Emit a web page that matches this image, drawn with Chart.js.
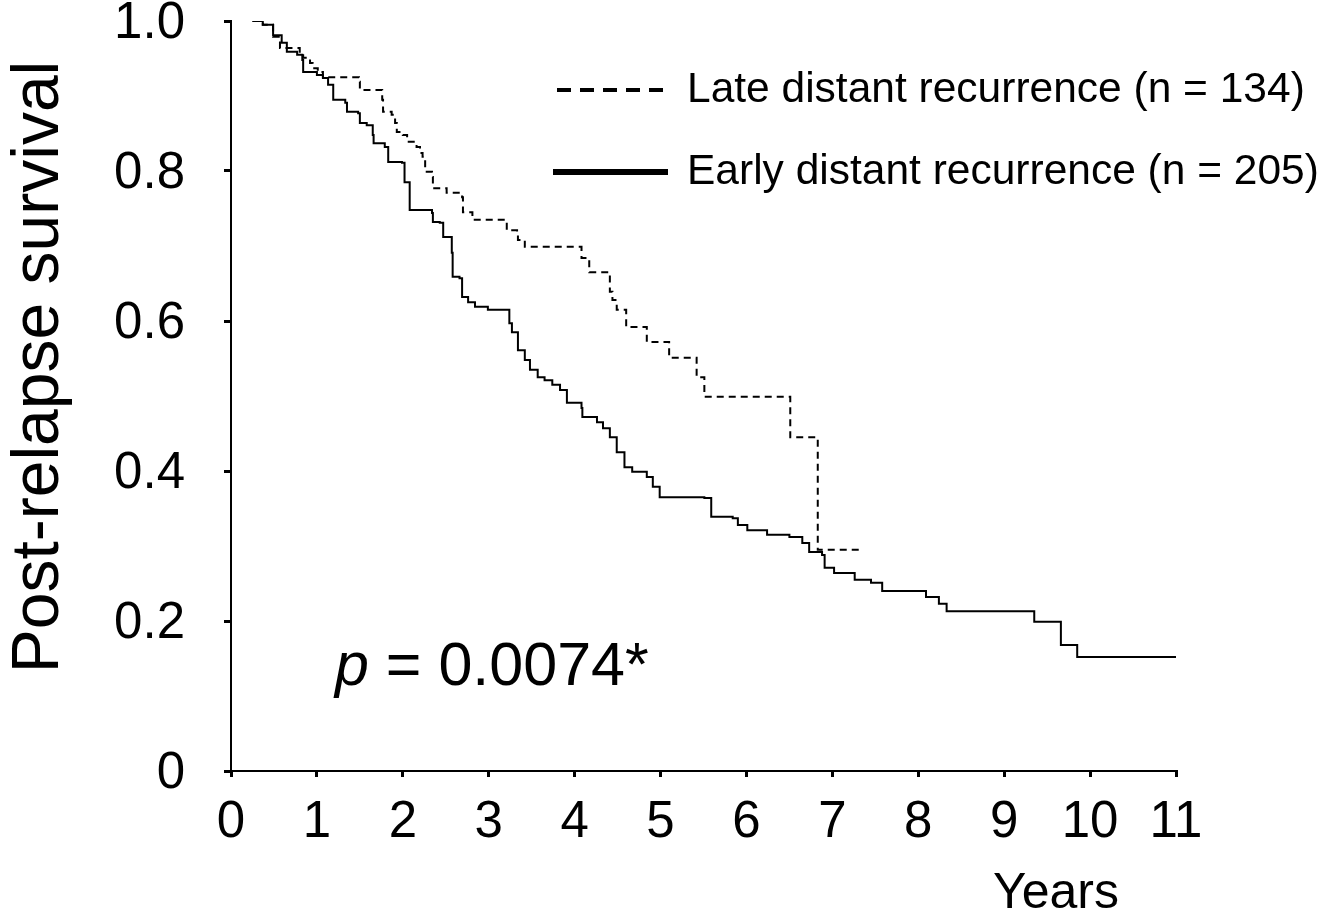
<!DOCTYPE html>
<html lang="en">
<head>
    <meta charset="UTF-8">
    <title>Post-relapse survival</title>
    <script src="https://cdn.jsdelivr.net/npm/chart.js"></script>
    <style>
        * { margin: 0; padding: 0; box-sizing: border-box; }
        body { background: #fff; }
        .chart-box { width: 1321px; height: 916px; position: relative; }
    </style>
</head>
<body>
    <div class="chart-box">
        <canvas id="kmCanvas"></canvas>
    </div>

    <script>
        // Kaplan-Meier steps (time in years, survival after the drop)
        const earlyTimes = [0.25, 0.37, 0.49, 0.59, 0.65, 0.77, 0.83, 0.84, 1.00, 1.07, 1.13, 1.19, 1.33, 1.35, 1.48, 1.50, 1.58, 1.65, 1.66, 1.79,
            1.83, 1.99, 2.02, 2.08, 2.34, 2.35, 2.43, 2.47, 2.57, 2.58, 2.66, 2.69, 2.76, 2.84, 2.99, 3.24, 3.27, 3.34, 3.42, 3.48,
            3.57, 3.65, 3.74, 3.83, 3.91, 4.08, 4.09, 4.26, 4.33, 4.41, 4.49, 4.58, 4.67, 4.84, 4.91, 4.99, 5.51, 5.59, 5.84, 5.90,
            6.01, 6.24, 6.50, 6.65, 6.73, 6.88, 6.91, 7.02, 7.26, 7.45, 7.58, 8.09, 8.24, 8.33, 9.35, 9.66, 9.85, 11.0];
        const earlySurv = [1.0, 0.995, 0.981, 0.971, 0.959, 0.955, 0.948, 0.932, 0.928, 0.924, 0.915, 0.895, 0.891, 0.879, 0.877, 0.864, 0.861, 0.848, 0.837, 0.832,
            0.812, 0.811, 0.785, 0.748, 0.744, 0.732, 0.731, 0.712, 0.691, 0.659, 0.657, 0.632, 0.625, 0.619, 0.615, 0.597, 0.585, 0.561, 0.548, 0.535,
            0.525, 0.521, 0.515, 0.508, 0.491, 0.484, 0.472, 0.465, 0.457, 0.445, 0.425, 0.405, 0.399, 0.392, 0.379, 0.365, 0.364, 0.339, 0.337, 0.328,
            0.321, 0.315, 0.312, 0.304, 0.292, 0.288, 0.271, 0.264, 0.255, 0.251, 0.240, 0.232, 0.223, 0.213, 0.199, 0.168, 0.152, 0.152];

        const lateTimes = [0.25, 0.37, 0.49, 0.57, 0.80, 0.84, 0.92, 0.95, 1.01, 1.07, 1.49, 1.50, 1.76, 1.77, 1.87, 1.91, 1.93, 2.00, 2.05, 2.16,
            2.20, 2.23, 2.26, 2.34, 2.35, 2.51, 2.69, 2.70, 2.81, 3.21, 3.33, 3.34, 3.42, 4.08, 4.17, 4.41, 4.44, 4.49, 4.60, 4.84,
            5.10, 5.42, 5.51, 6.51, 6.83, 7.34];
        const lateSurv = [1.0, 0.995, 0.979, 0.964, 0.957, 0.951, 0.944, 0.937, 0.932, 0.925, 0.919, 0.908, 0.895, 0.879, 0.875, 0.864, 0.852, 0.848, 0.839, 0.832,
            0.824, 0.819, 0.799, 0.792, 0.777, 0.771, 0.765, 0.745, 0.735, 0.721, 0.719, 0.708, 0.699, 0.684, 0.665, 0.639, 0.628, 0.615, 0.592, 0.572,
            0.551, 0.525, 0.499, 0.445, 0.295, 0.295];

        const seriesLabels = ['Late distant recurrence (n = 134)', 'Early distant recurrence (n = 205)'];
        const xTicks = [0, 1, 2, 3, 4, 5, 6, 7, 8, 9, 10, 11];
        const yTicks = [0, 0.2, 0.4, 0.6, 0.8, 1.0];
        const pText = '0.0074*';

        const FONT = "Arial, 'Liberation Sans', sans-serif";

        function toPoints(times, surv) {
            return times.map((t, i) => ({ x: t, y: surv[i] }));
        }

        // titles, legend and p value
        const annotations = {
            id: 'annotations',
            afterDraw(chart) {
                const ctx = chart.ctx;
                ctx.save();
                ctx.fillStyle = '#000';

                // y title
                ctx.save();
                ctx.translate(40, 367);
                ctx.rotate(-Math.PI / 2);
                ctx.font = '66px ' + FONT;
                ctx.textAlign = 'center';
                ctx.textBaseline = 'middle';
                ctx.fillText('Post-relapse survival', 0, 0);
                ctx.restore();

                // x title
                ctx.font = '50px ' + FONT;
                ctx.textAlign = 'center';
                ctx.textBaseline = 'alphabetic';
                ctx.fillText('Years', 1056, 908);

                // legend
                ctx.strokeStyle = '#000';
                ctx.lineWidth = 4;
                ctx.setLineDash([14, 9]);
                ctx.beginPath();
                ctx.moveTo(557, 90);
                ctx.lineTo(667, 90);
                ctx.stroke();
                ctx.setLineDash([]);
                ctx.lineWidth = 6;
                ctx.beginPath();
                ctx.moveTo(553, 172);
                ctx.lineTo(668, 172);
                ctx.stroke();

                ctx.font = '42.5px ' + FONT;
                ctx.textAlign = 'left';
                ctx.textBaseline = 'middle';
                ctx.fillText(seriesLabels[0], 687, 90);
                ctx.fillText(seriesLabels[1], 687, 172);

                // p value
                ctx.textBaseline = 'alphabetic';
                ctx.font = 'italic 61px ' + FONT;
                ctx.fillText('p', 335, 685);
                const pw = ctx.measureText('p').width;
                ctx.font = '61px ' + FONT;
                ctx.fillText(' = ' + pText, 335 + pw, 685);

                ctx.restore();
            }
        };

        const ctx = document.getElementById('kmCanvas').getContext('2d');
        const kmChart = new Chart(ctx, {
            type: 'line',
            data: {
                datasets: [{
                    label: seriesLabels[0],
                    data: toPoints(lateTimes, lateSurv),
                    borderColor: '#000',
                    borderWidth: 2,
                    borderDash: [7, 5],
                    stepped: 'before',
                    pointRadius: 0,
                    fill: false
                }, {
                    label: seriesLabels[1],
                    data: toPoints(earlyTimes, earlySurv),
                    borderColor: '#000',
                    borderWidth: 2,
                    stepped: 'before',
                    pointRadius: 0,
                    fill: false
                }]
            },
            options: {
                responsive: true,
                maintainAspectRatio: false,
                animation: false,
                layout: { padding: { top: 21, right: 145, left: 0, bottom: 0 } },
                plugins: {
                    legend: { display: false },
                    tooltip: { enabled: false }
                },
                scales: {
                    x: {
                        type: 'linear',
                        min: 0,
                        max: 11,
                        afterFit: (scale) => {
                            scale.height = 145;
                            scale.paddingLeft = 0;
                            scale.paddingRight = 0;
                        },
                        afterBuildTicks: (scale) => { scale.ticks = xTicks.map(v => ({ value: v })); },
                        ticks: {
                            color: '#000',
                            font: { family: FONT, size: 51 },
                            padding: 15,
                            maxRotation: 0,
                            autoSkip: false
                        },
                        grid: { drawOnChartArea: false, color: '#000', lineWidth: 3, tickLength: 6 },
                        border: { color: '#000', width: 2 }
                    },
                    y: {
                        min: 0,
                        max: 1,
                        afterFit: (scale) => {
                            scale.width = 231;
                            scale.paddingTop = 0;
                            scale.paddingBottom = 0;
                        },
                        afterBuildTicks: (scale) => { scale.ticks = yTicks.map(v => ({ value: v })); },
                        ticks: {
                            color: '#000',
                            font: { family: FONT, size: 51 },
                            padding: 39,
                            labelOffset: 3,
                            callback: (v) => v === 0 ? '0' : v.toFixed(1)
                        },
                        grid: { drawOnChartArea: false, color: '#000', lineWidth: 3, tickLength: 7 },
                        border: { color: '#000', width: 2 }
                    }
                }
            },
            plugins: [annotations]
        });
    </script>
</body>
</html>
